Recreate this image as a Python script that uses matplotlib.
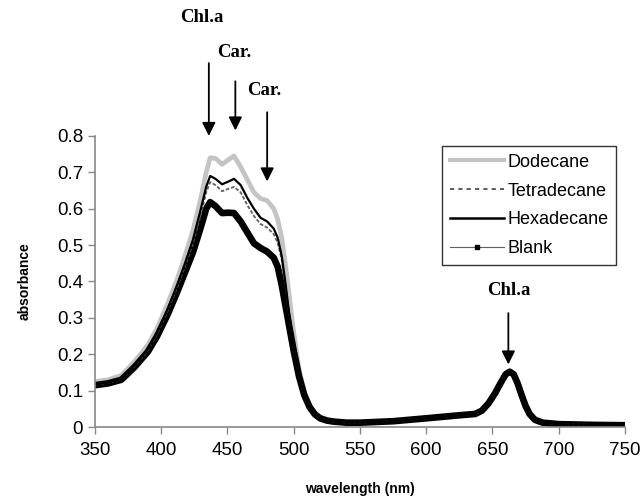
import numpy as np
import matplotlib
matplotlib.use("Agg")
import matplotlib.pyplot as plt
from matplotlib.lines import Line2D

### Data ###############################################################
# wavelength (nm)
wl = [350, 360, 370, 380, 390, 397, 405, 412, 418, 424,
      430, 434, 437, 441, 446, 451, 455, 460, 465, 470,
      475, 480, 485, 488, 491, 494, 497, 500, 504, 508,
      512, 516, 520, 525, 530, 540, 550, 575, 600, 627,
      637, 642, 647, 652, 656, 660, 663, 666, 669, 672,
      675, 678, 682, 688, 700, 725, 750]

# common red / far-red part (from 512 nm on)
tail = [.055, .035, .024, .018, .015, .012, .012, .016, .024, .033,
        .036, .045, .065, .093, .12, .145, .152, .145, .12, .088,
        .058, .036, .02, .012, .008, .006, .005]

blank = [.115, .12, .13, .165, .207, .25, .31, .37, .425, .48,
         .55, .60, .618, .607, .588, .589, .588, .565, .535, .505,
         .492, .482, .465, .44, .39, .33, .27, .21, .14, .088] + tail

hexadecane = [.117, .122, .133, .17, .214, .26, .325, .39, .45, .515,
              .60, .66, .69, .682, .667, .675, .682, .665, .63, .60,
              .575, .565, .545, .52, .47, .39, .30, .22, .14, .088] + tail

tetradecane = [.116, .121, .132, .168, .211, .256, .32, .383, .442, .505,
               .585, .645, .673, .665, .648, .655, .66, .645, .61, .58,
               .558, .548, .53, .505, .46, .385, .30, .22, .14, .088] + tail

dodecane = [.125, .13, .142, .18, .226, .272, .34, .405, .47, .54,
            .63, .70, .74, .738, .722, .735, .745, .715, .68, .645,
            .628, .622, .60, .57, .52, .44, .35, .26, .16, .095,
            .06, .038, .027, .02, .016, .013, .013, .017, .025, .034,
            .037, .046, .066, .094, .121, .146, .153, .146, .121, .089,
            .059, .037, .021, .013, .009, .007, .006]

# peak annotations: label, arrow x (nm), arrow top, arrow tip, label pos
peak_labels = ['Chl.a', 'Car.', 'Car.', 'Chl.a']
peak_x = [436, 456, 480, 662]
arrow_top = [1.0, 0.95, 0.865, 0.313]
arrow_tip = [0.80, 0.815, 0.675, 0.172]
label_x = [431, 455, 478, 662]
label_y = [1.125, 1.028, 0.925, 0.375]

x_ticks = np.arange(350, 751, 50)
y_ticks = [0, 0.1, 0.2, 0.3, 0.4, 0.5, 0.6, 0.7, 0.8]
y_ticklabels = ['0', '0.1', '0.2', '0.3', '0.4', '0.5', '0.6', '0.7', '0.8']

### Plot ###############################################################
plt.rcParams['font.family'] = ['Liberation Sans', 'DejaVu Sans']

fig = plt.figure(figsize=(6.41, 4.96), dpi=100)
ax = fig.add_axes([0.148, 0.139, 0.827, 0.587])

ax.plot(wl, dodecane, color='#c4c4c4', lw=3.4, solid_joinstyle='round')
ax.plot(wl, blank, color='black', lw=4.8, solid_joinstyle='round')
ax.plot(wl, tetradecane, color='#606060', lw=1.3, linestyle=(0, (2, 1)))
ax.plot(wl, hexadecane, color='black', lw=1.6)

# arrows + labels above the peaks
for lab, px, yt, ytip, lx, ly in zip(peak_labels, peak_x, arrow_top,
                                      arrow_tip, label_x, label_y):
    ax.annotate('', xy=(px, ytip), xytext=(px, yt),
                arrowprops=dict(arrowstyle='-|>', color='black', lw=1.3,
                                mutation_scale=20, shrinkA=0, shrinkB=0),
                annotation_clip=False)
    ax.text(lx, ly, lab, ha='center', va='center', fontsize=13.5,
            family='Liberation Serif', fontweight='bold', clip_on=False)

ax.set_xlim(350, 750)
ax.set_ylim(0, 0.8)
ax.set_xticks(x_ticks)
ax.set_yticks(y_ticks)
ax.set_yticklabels(y_ticklabels)
ax.tick_params(labelsize=13.5, color='#888888', length=5, width=1)
ax.tick_params(axis='x', pad=6)
for s in ['top', 'right']:
    ax.spines[s].set_visible(False)
for s in ['left', 'bottom']:
    ax.spines[s].set_color('#888888')
    ax.spines[s].set_linewidth(1.2)

ax.set_xlabel('wavelength (nm)', fontsize=10, fontweight='bold', labelpad=16)
ax.set_ylabel('absorbance', fontsize=10, fontweight='bold', labelpad=18)

# legend proxies
handles = [
    Line2D([], [], color='#c4c4c4', lw=3.0),
    Line2D([], [], color='#404040', lw=1.2, linestyle=(0, (2.5, 2.5))),
    Line2D([], [], color='black', lw=1.8),
    Line2D([], [], color='#606060', lw=0.8, marker='s', markersize=3.5,
           markerfacecolor='black', markeredgecolor='black'),
]
leg = fig.legend(handles, ['Dodecane', 'Tetradecane', 'Hexadecane', 'Blank'],
                 loc='upper right', bbox_to_anchor=(616 / 641, 1 - 146 / 496),
                 fontsize=13, frameon=True, fancybox=False,
                 edgecolor='black', handlelength=3.0, handletextpad=0.2,
                 labelspacing=0.66, borderpad=0.42, borderaxespad=0)
leg.get_frame().set_linewidth(1.0)

plt.savefig('out.png', dpi=100)
